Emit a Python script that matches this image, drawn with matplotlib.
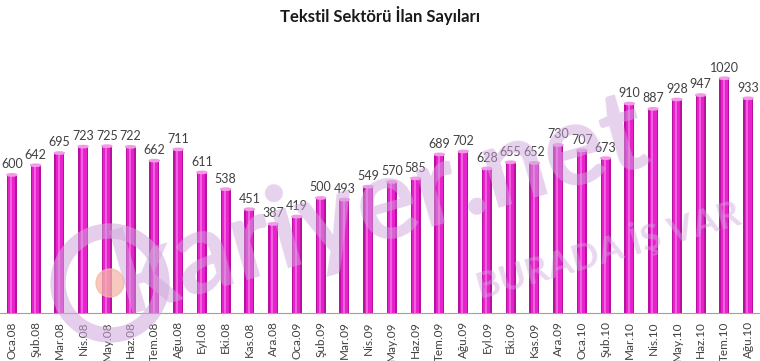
import numpy as np
import matplotlib
matplotlib.use("Agg")
import matplotlib.pyplot as plt
from matplotlib.patches import Ellipse

# data
months = ['Oca.08', 'Şub.08', 'Mar.08', 'Nis.08', 'May.08', 'Haz.08', 'Tem.08', 'Ağu.08',
          'Eyl.08', 'Eki.08', 'Kas.08', 'Ara.08',
          'Oca.09', 'Şub.09', 'Mar.09', 'Nis.09', 'May.09', 'Haz.09', 'Tem.09', 'Ağu.09',
          'Eyl.09', 'Eki.09', 'Kas.09', 'Ara.09',
          'Oca.10', 'Şub.10', 'Mar.10', 'Nis.10', 'May.10', 'Haz.10', 'Tem.10', 'Ağu.10']
values = [600, 642, 695, 723, 725, 722, 662, 711, 611, 538, 451, 387,
          419, 500, 493, 549, 570, 585, 689, 702, 628, 655, 652, 730,
          707, 673, 910, 887, 928, 947, 1020, 933]

plt.rcParams['font.family'] = ['Lato', 'DejaVu Sans']

W, H = 760, 361
fig = plt.figure(figsize=(W / 100, H / 100), dpi=100)
ax = fig.add_axes([0.0, 0.133, 1.0, 0.765])

x = np.arange(len(values))
w = 0.42

# watermark (semi transparent, over the plot like the original)
wm = '#cfa6dc'
fig.text(0.50, 0.43, 'kariyer.net', fontsize=82, fontweight='bold', color=wm,
         alpha=0.5, rotation=16, ha='center', va='center', zorder=3)
fig.text(0.80, 0.31, 'BURADA İŞ VAR', fontsize=26, fontweight='bold', color=wm,
         alpha=0.45, rotation=16, ha='center', va='center', zorder=3)
# logo ring + dot, in pixel sizes so it stays round
cx, cy, r = 110 / W, 1 - 283 / H, 52
fig.patches.append(Ellipse((cx, cy), 2 * r / W, 2 * r / H, transform=fig.transFigure,
                           fill=False, lw=11, ec=wm, alpha=0.55, zorder=3))
fig.patches.append(Ellipse((cx, cy), 28 / W, 28 / H, transform=fig.transFigure,
                           color='#f5b8a8', alpha=0.75, zorder=3))

# cylinder-ish bars: dark body, lighter core, light top
ax.bar(x, values, width=w, color='#b8109f', zorder=2)
ax.bar(x, values, width=w * 0.7, color='#e622cc', zorder=3)
ax.bar(x - w * 0.08, values, width=w * 0.2, color='#f360df', zorder=4)
for xi, v in zip(x, values):
    ax.add_patch(Ellipse((xi, v), w, 10, color='#f39ae6', zorder=5))
    ax.text(xi, v + 20, str(v), ha='center', va='bottom', fontsize=9,
            color='#404040', zorder=6)

ax.set_xlim(-0.5, len(values) - 0.5)
ax.set_ylim(0, 1200)
ax.set_xticks(x)
ax.set_xticklabels(months, rotation=90, fontsize=8.5, color='#404040')
ax.set_yticks([])
ax.tick_params(axis='x', length=0, pad=6)
for s in ['top', 'right', 'left']:
    ax.spines[s].set_visible(False)
ax.spines['bottom'].set_color('#a0a0a0')
ax.patch.set_alpha(0)

fig.text(0.5, 0.958, 'Tekstil Sektörü İlan Sayıları', ha='center', va='center',
         fontsize=12, fontweight='bold', color='#1a1a1a')

fig.savefig('out.png', dpi=100)
